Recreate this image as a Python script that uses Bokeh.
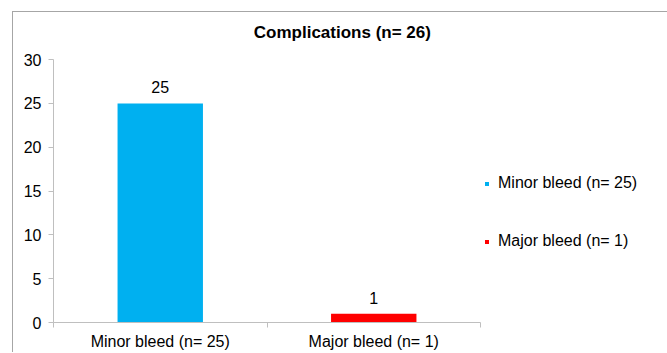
from bokeh.plotting import figure
from bokeh.models import Range1d, FixedTicker, Legend, LegendItem, Label, ColumnDataSource
from bokeh.embed import file_html
from bokeh.resources import INLINE
from bokeh.core.properties import value

categories = ["Minor bleed (n= 25)", "Major bleed (n= 1)"]
counts = [25, 1]
colors = ["#00B0F0", "#FF0000"]
y_ticks = [0, 5, 10, 15, 20, 25, 30]
title_text = "Complications (n= 26)"

FONT = "Liberation Sans"
GRAY = "#bfbfbf"

xs = [i + 0.5 for i in range(len(categories))]
bounds = list(range(len(categories) + 1))
y_max = y_ticks[-1]
y_top = y_max * 1.16  # headroom inside frame for the title

src = ColumnDataSource(dict(x=xs, top=counts, color=colors,
                            label=[str(c) for c in counts], name=categories))

p = figure(frame_width=427, frame_height=305,
           x_range=Range1d(0, len(categories)), y_range=Range1d(0, y_top),
           output_backend="svg", toolbar_location=None,
           min_border_left=40, min_border_top=5, min_border_right=183, min_border_bottom=26,
           margin=(11, 0, 0, 12),
           styles={"border-left": "1px solid #a6a6a6", "border-top": "1px solid #a6a6a6"})

p.xgrid.visible = False
p.ygrid.visible = False
p.outline_line_color = None
p.background_fill_color = "white"
p.border_fill_color = "white"

bars = p.vbar(x="x", top="top", width=0.4, bottom=0, color="color", line_color=None, source=src)

p.text(x="x", y="top", text="label", source=src, text_align="center",
       text_baseline="alphabetic", y_offset=-16, text_font=value(FONT),
       text_font_size="16px", text_color="black")

xa = p.xaxis[0]
xa.ticker = FixedTicker(ticks=xs, minor_ticks=bounds)
xa.major_label_overrides = {x: n for x, n in zip(xs, categories)}
xa.major_tick_out = 0
xa.major_tick_in = 0
xa.minor_tick_out = 5
xa.minor_tick_in = 0
xa.minor_tick_line_color = GRAY
xa.axis_line_color = GRAY
xa.major_label_standoff = 5
xa.major_label_text_font = FONT
xa.major_label_text_font_size = "16px"
xa.major_label_text_color = "black"

ya = p.yaxis[0]
ya.ticker = FixedTicker(ticks=y_ticks)
ya.bounds = (0, y_max)
ya.major_tick_out = 5
ya.major_tick_in = 0
ya.minor_tick_out = 0
ya.minor_tick_in = 0
ya.major_tick_line_color = GRAY
ya.axis_line_color = GRAY
ya.major_label_standoff = 7
ya.major_label_text_font = FONT
ya.major_label_text_font_size = "16px"
ya.major_label_text_color = "black"

items = [LegendItem(label=n, renderers=[bars], index=i) for i, n in enumerate(categories)]
legend = Legend(items=items, location=(4, 71), orientation="vertical",
                padding=0, margin=0, border_line_color=None, background_fill_alpha=0,
                glyph_width=5, glyph_height=5, label_standoff=9, spacing=38,
                label_height=20, label_text_font=FONT, label_text_font_size="16px",
                label_text_color="black")
p.add_layout(legend, "right")

title = Label(x=1.353, y=33.1, text=title_text, text_align="center", text_baseline="middle",
              text_font=FONT, text_font_style="bold",
              text_font_size="17px", text_color="black")
p.add_layout(title)

open("out.html", "w").write(file_html(p, INLINE))
